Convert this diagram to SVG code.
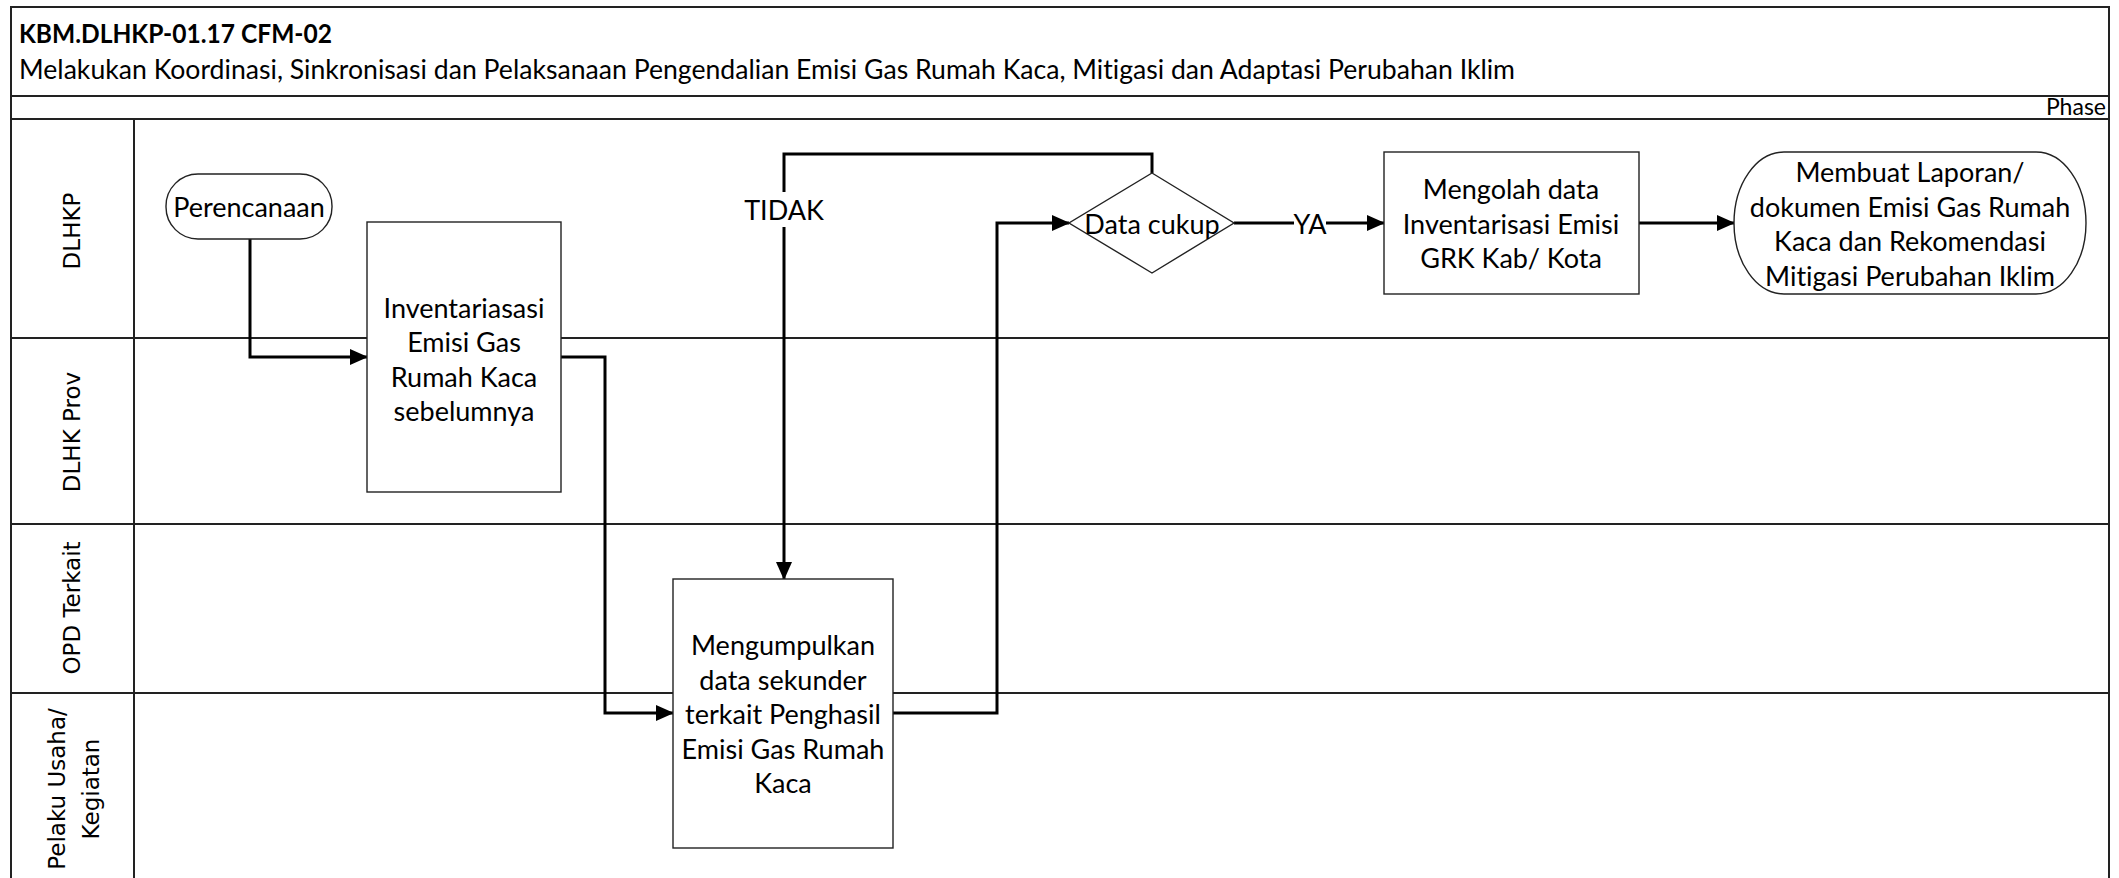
<svg xmlns="http://www.w3.org/2000/svg" width="2119" height="878" viewBox="0 0 2119 878">
  <defs>
    <marker id="arrow" markerUnits="userSpaceOnUse" markerWidth="18" markerHeight="16" refX="17" refY="8" orient="auto">
      <path d="M0,0 L18,8 L0,16 Z" fill="#000"/>
    </marker>
    <style>
      text { font-variant-ligatures: none; }
      .frame { fill: none; stroke: #222; stroke-width: 2; }
      .lane { stroke: #222; stroke-width: 2; }
      .shape { fill: #fff; stroke: #222; stroke-width: 1.4; }
      .txt { font-family: Lato, "Liberation Sans", sans-serif; font-size: 27px; fill: #000; text-anchor: middle; dominant-baseline: central; }
      .lanelbl { font-family: "DejaVu Sans", Verdana, sans-serif; font-size: 23px; fill: #000; text-anchor: middle; dominant-baseline: central; }
      .conn { fill: none; stroke: #000; stroke-width: 3; }
      .lblbg { fill: #fff; }
    </style>
  </defs>

  <rect width="2119" height="878" fill="#fff"/>

  <!-- header -->
  <g id="header">
    <rect class="frame" x="11" y="7" width="2098" height="880"/>
    <text x="19" y="43" font-family="Lato, 'Liberation Sans', sans-serif" font-size="27" font-weight="bold" textLength="313" lengthAdjust="spacingAndGlyphs">KBM.DLHKP-01.17 CFM-02</text>
    <text x="19" y="79" font-family="Lato, 'Liberation Sans', sans-serif" font-size="27" textLength="1496" lengthAdjust="spacingAndGlyphs">Melakukan Koordinasi, Sinkronisasi dan Pelaksanaan Pengendalian Emisi Gas Rumah Kaca, Mitigasi dan Adaptasi Perubahan Iklim</text>
    <line class="lane" x1="11" y1="96" x2="2109" y2="96"/>
    <line class="lane" x1="11" y1="119" x2="2109" y2="119"/>
    <text x="2106" y="115" font-family="Lato, 'Liberation Sans', sans-serif" font-size="23" text-anchor="end">Phase</text>
  </g>

  <!-- swimlanes -->
  <g id="lanes">
    <line class="lane" x1="134" y1="119" x2="134" y2="878"/>
    <line class="lane" x1="11" y1="338" x2="2109" y2="338"/>
    <line class="lane" x1="11" y1="524" x2="2109" y2="524"/>
    <line class="lane" x1="11" y1="693" x2="2109" y2="693"/>
    <text class="lanelbl" transform="translate(72,231) rotate(-90)">DLHKP</text>
    <text class="lanelbl" transform="translate(72,432) rotate(-90)">DLHK Prov</text>
    <text class="lanelbl" transform="translate(72,608) rotate(-90)">OPD Terkait</text>
    <text class="lanelbl" transform="translate(57,789) rotate(-90)">Pelaku Usaha/</text>
    <text class="lanelbl" transform="translate(91,789) rotate(-90)">Kegiatan</text>
  </g>

  <!-- connectors -->
  <g id="connectors">
    <path class="conn" d="M250,239 V357 H367" marker-end="url(#arrow)"/>
    <path class="conn" d="M561,357 H605 V713 H673" marker-end="url(#arrow)"/>
    <path class="conn" d="M893,713 H997 V223 H1069" marker-end="url(#arrow)"/>
    <path class="conn" d="M1152,173 V154 H784 V579" marker-end="url(#arrow)"/>
    <path class="conn" d="M1234,223 H1384" marker-end="url(#arrow)"/>
    <path class="conn" d="M1639,223 H1734" marker-end="url(#arrow)"/>
    <rect class="lblbg" x="748" y="192" width="72" height="35"/>
    <text class="txt" x="784" y="209">TIDAK</text>
    <rect class="lblbg" x="1294" y="208" width="32" height="30"/>
    <text class="txt" x="1310" y="223">YA</text>
  </g>

  <g id="perencanaan">
    <rect class="shape" x="166" y="174" width="166" height="65" rx="32" ry="32"/>
    <text class="txt" x="249" y="206">Perencanaan</text>
  </g>

  <g id="inventarisasi-sebelumnya">
    <rect class="shape" x="367" y="222" width="194" height="270"/>
    <text class="txt" x="464" y="307">Inventariasasi</text>
    <text class="txt" x="464" y="341">Emisi Gas</text>
    <text class="txt" x="464" y="376">Rumah Kaca</text>
    <text class="txt" x="464" y="410">sebelumnya</text>
  </g>

  <g id="mengumpulkan">
    <rect class="shape" x="673" y="579" width="220" height="269"/>
    <text class="txt" x="783" y="644">Mengumpulkan</text>
    <text class="txt" x="783" y="679">data sekunder</text>
    <text class="txt" x="783" y="713">terkait Penghasil</text>
    <text class="txt" x="783" y="748">Emisi Gas Rumah</text>
    <text class="txt" x="783" y="782">Kaca</text>
  </g>

  <g id="data-cukup">
    <path class="shape" d="M1152,173 L1234,223 L1152,273 L1069,223 Z"/>
    <text class="txt" x="1152" y="223">Data cukup</text>
  </g>

  <g id="mengolah">
    <rect class="shape" x="1384" y="152" width="255" height="142"/>
    <text class="txt" x="1511" y="188">Mengolah data</text>
    <text class="txt" x="1511" y="223">Inventarisasi Emisi</text>
    <text class="txt" x="1511" y="257">GRK Kab/ Kota</text>
  </g>

  <g id="laporan">
    <rect class="shape" x="1734" y="152" width="352" height="142" rx="50" ry="71"/>
    <text class="txt" x="1910" y="171">Membuat Laporan/</text>
    <text class="txt" x="1910" y="206">dokumen Emisi Gas Rumah</text>
    <text class="txt" x="1910" y="240">Kaca dan Rekomendasi</text>
    <text class="txt" x="1910" y="275">Mitigasi Perubahan Iklim</text>
  </g>
</svg>
